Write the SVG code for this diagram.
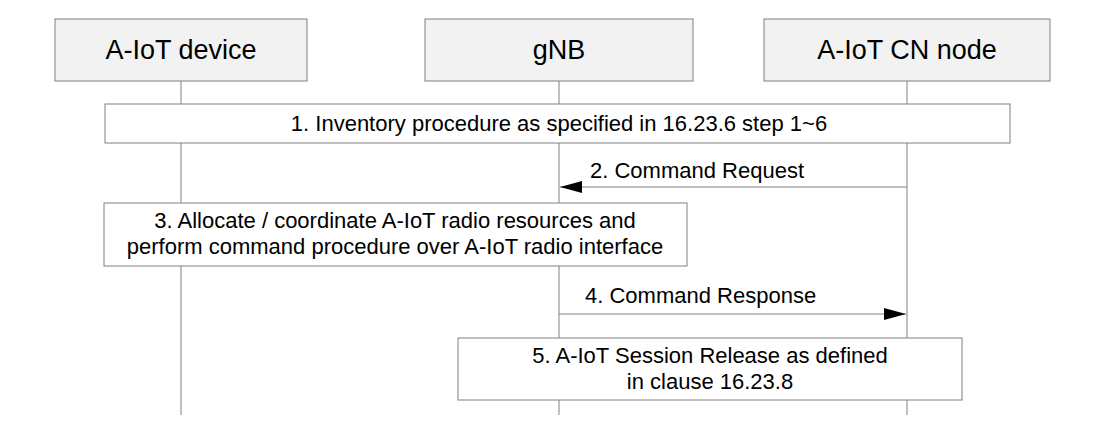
<svg xmlns="http://www.w3.org/2000/svg" width="1099" height="431" viewBox="0 0 1099 431">
<style>
text{font-family:"Liberation Sans",Arial,sans-serif;fill:#000}
.h{fill:#f2f2f2;stroke:#808080;stroke-width:1}
.b{fill:#fff;stroke:#808080;stroke-width:1}
.l{stroke:#808080;stroke-width:1}
.t{font-size:22px}
</style>
<defs><marker id="a" viewBox="0 0 22 12" refX="22" refY="6" markerWidth="22" markerHeight="12" markerUnits="userSpaceOnUse" orient="auto"><path d="M0,0L22,6L0,12z" fill="#000"/></marker></defs>
<g id="lifelines">
<line class="l" x1="181" y1="81" x2="181" y2="415"/>
<line class="l" x1="559" y1="81" x2="559" y2="415"/>
<line class="l" x1="907" y1="81" x2="907" y2="415"/>
</g>
<g id="dev"><rect class="h" x="55" y="19" width="252" height="62"/><text x="181" y="59" font-size="27" text-anchor="middle">A-IoT device</text></g>
<g id="gnb"><rect class="h" x="425" y="19" width="268" height="62"/><text x="559" y="59" font-size="27" text-anchor="middle">gNB</text></g>
<g id="cn"><rect class="h" x="764" y="19" width="286" height="62"/><text x="907" y="59" font-size="27" text-anchor="middle">A-IoT CN node</text></g>
<g id="s1"><rect class="b" x="105" y="104" width="905" height="39"/><text class="t" x="559" y="131" text-anchor="middle">1. Inventory procedure as specified in 16.23.6 step 1~6</text></g>
<g id="connectors">
<line class="l" x1="907" y1="187" x2="560" y2="187" marker-end="url(#a)"/>
<line class="l" x1="559" y1="314" x2="906" y2="314" marker-end="url(#a)"/>
</g>
<text class="t" x="590" y="178">2. Command Request</text>
<text class="t" x="585" y="303">4. Command Response</text>
<g id="s3"><rect class="b" x="104" y="203" width="583" height="63"/><text class="t" x="395" y="228" text-anchor="middle">3. Allocate / coordinate A-IoT radio resources and</text><text class="t" x="395" y="254" text-anchor="middle">perform command procedure over A-IoT radio interface</text></g>
<g id="s5"><rect class="b" x="458" y="338" width="504" height="62"/><text class="t" x="710" y="363" text-anchor="middle">5. A-IoT Session Release as defined</text><text class="t" x="710" y="389" text-anchor="middle">in clause 16.23.8</text></g>
</svg>
